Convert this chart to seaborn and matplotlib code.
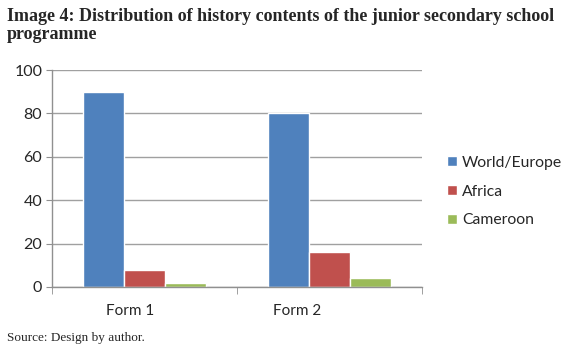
import pandas as pd
import matplotlib.pyplot as plt
import matplotlib.transforms as mtransforms
import seaborn as sns

forms = ["Form 1", "Form 2"]
regions = ["World/Europe", "Africa", "Cameroon"]
world_europe = [90, 80]
africa = [8, 16]
cameroon = [2, 4]
colors = ["#4F81BD", "#C0504D", "#9BBB59"]

df = pd.DataFrame({
    "Form": forms * 3,
    "Region": [r for r in regions for _ in forms],
    "Value": world_europe + africa + cameroon,
})

sns.set_style("white")
plt.rcParams["font.family"] = ["Lato", "DejaVu Sans"]

fig = plt.figure(figsize=(5.8, 3.62), dpi=100)
ax = fig.add_axes([0.0897, 0.2072, 0.6379, 0.5994])

sns.barplot(data=df, x="Form", y="Value", hue="Region", palette=colors,
            width=0.665, gap=0, saturation=1, ax=ax)

ax.set_ylim(0, 100)
ax.set_xlim(-0.5, 1.5)
ax.set_yticks(range(0, 101, 20))
ax.set_xlabel("")
ax.set_ylabel("")
ax.yaxis.grid(True, color="#A0A0A0", linewidth=1)
ax.set_axisbelow(True)
for s in ["top", "right"]:
    ax.spines[s].set_visible(False)
for s in ["left", "bottom"]:
    ax.spines[s].set_color("#909090")
    ax.spines[s].set_linewidth(1)
ax.tick_params(axis="y", left=True, length=4, color="#909090", labelsize=11.5, pad=3)
ax.tick_params(axis="x", bottom=False, labelsize=11, pad=9)
ax.set_xticks([-0.5, 0.5, 1.5], minor=True)
ax.tick_params(axis="x", which="minor", bottom=True, length=5, color="#909090")

# labels in the reference sit left of the category centres
for lab, dx in zip(ax.get_xticklabels(), [-14, -32]):
    offset = mtransforms.ScaledTranslation(dx / 100, 0, fig.dpi_scale_trans)
    lab.set_transform(lab.get_transform() + offset)

leg = ax.legend(loc="center left", bbox_to_anchor=(1.03, 0.44), frameon=False,
                fontsize=11.3, handlelength=0.6, handleheight=0.6,
                handletextpad=0.35, labelspacing=0.95)

fig.text(0.012, 0.978, "Image 4: Distribution of history contents of the junior secondary school\nprogramme",
         ha="left", va="top", fontsize=13.0, fontweight="bold",
         family=["Liberation Serif", "DejaVu Serif"], linespacing=1.1)
fig.text(0.012, 0.066, "Source: Design by author.", ha="left", va="center",
         fontsize=9.5, family=["Liberation Serif", "DejaVu Serif"])

fig.savefig("out.png", dpi=100)
